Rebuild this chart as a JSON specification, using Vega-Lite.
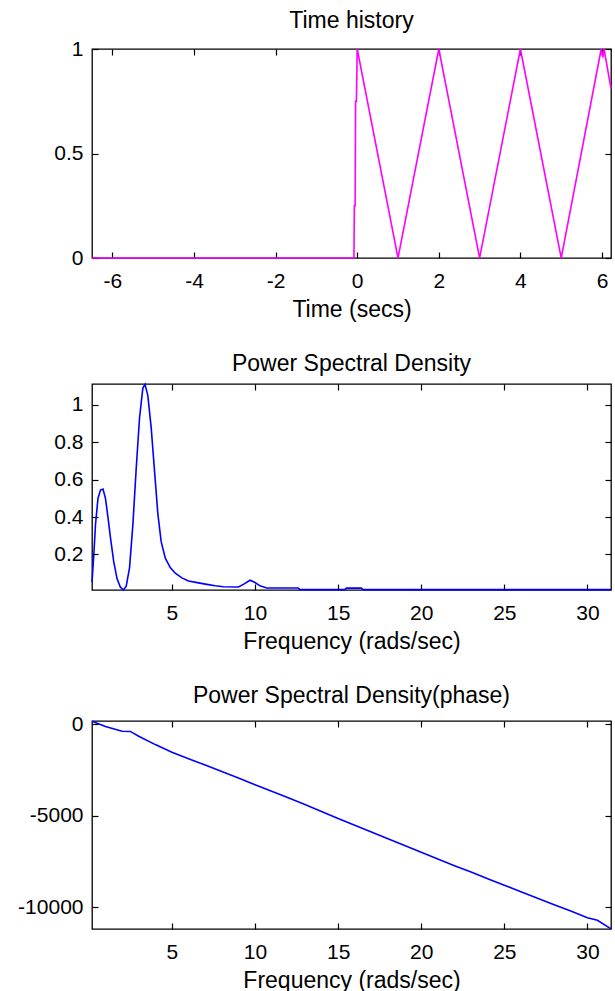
{
  "$schema": "https://vega.github.io/schema/vega-lite/v6.json",
  "padding": {"left": 16, "top": 9, "right": 3, "bottom": 4},
  "spacing": 30,
  "config": {
    "font": "Liberation Sans",
    "view": {"stroke": "black", "strokeWidth": 1.3},
    "locale": {"number": {"decimal": ".", "thousands": ",", "grouping": [3], "currency": ["$", ""], "minus": "-"}},
    "axis": {
      "grid": false, "domain": false, "tickSize": -6, "tickColor": "black", "tickWidth": 1.2,
      "labelFont": "Liberation Sans", "labelFontSize": 21, "labelColor": "black", "labelFlush": false, "labelOverlap": false,
      "titleFont": "Liberation Sans", "titleFontSize": 23, "titleFontWeight": "normal", "titleColor": "black"
    },
    "axisX": {"labelPadding": 18, "titlePadding": 7},
    "axisY": {"labelPadding": 15},
    "title": {"font": "Liberation Sans", "fontSize": 23, "fontWeight": "normal", "color": "black", "offset": 5}
  },
  "vconcat": [
    {
      "width": 519, "height": 209,
      "title": "Time history",
      "data": {"values": [
        {"t": -6.5, "v": 0}, {"t": -0.08, "v": 0}, {"t": -0.07, "v": 0.25}, {"t": -0.05, "v": 0.25},
        {"t": -0.04, "v": 0.75}, {"t": -0.02, "v": 0.75}, {"t": 0, "v": 1}, {"t": 1, "v": 0},
        {"t": 2, "v": 1}, {"t": 3, "v": 0}, {"t": 4, "v": 1}, {"t": 5, "v": 0},
        {"t": 5.98, "v": 1}, {"t": 6.02, "v": 0.96}, {"t": 6.05, "v": 1}, {"t": 6.22, "v": 0.81}
      ]},
      "layer": [
        {
          "mark": {"type": "line", "color": "#ff00ff", "strokeWidth": 1.6},
          "encoding": {
            "x": {"field": "t", "type": "quantitative", "scale": {"domain": [-6.5, 6.22], "nice": false, "zero": false},
                  "axis": {"orient": "bottom", "values": [-6, -4, -2, 0, 2, 4, 6], "title": "Time (secs)"}},
            "y": {"field": "v", "type": "quantitative", "scale": {"domain": [0, 1], "nice": false, "zero": false},
                  "axis": {"orient": "left", "values": [0, 0.5, 1], "format": "~g", "title": null}}
          }
        },
        {
          "mark": {"type": "line", "opacity": 0},
          "encoding": {
            "x": {"field": "t", "type": "quantitative", "axis": {"orient": "top", "labels": false, "title": null, "values": [-6, -4, -2, 0, 2, 4, 6]}},
            "y": {"field": "v", "type": "quantitative", "axis": {"orient": "right", "labels": false, "title": null, "values": [0, 0.5, 1]}}
          }
        }
      ]
    },
    {
      "width": 519, "height": 206,
      "title": "Power Spectral Density",
      "data": {"values": [
        {"f": 0.19, "p": 0.053}, {"f": 0.3, "p": 0.2}, {"f": 0.4, "p": 0.36}, {"f": 0.55, "p": 0.5},
        {"f": 0.7, "p": 0.545}, {"f": 0.85, "p": 0.55}, {"f": 1.0, "p": 0.5}, {"f": 1.15, "p": 0.4},
        {"f": 1.3, "p": 0.29}, {"f": 1.5, "p": 0.16}, {"f": 1.7, "p": 0.07}, {"f": 1.9, "p": 0.025},
        {"f": 2.08, "p": 0.01}, {"f": 2.25, "p": 0.03}, {"f": 2.45, "p": 0.13}, {"f": 2.65, "p": 0.36},
        {"f": 2.85, "p": 0.66}, {"f": 3.05, "p": 0.93}, {"f": 3.25, "p": 1.09}, {"f": 3.38, "p": 1.11},
        {"f": 3.55, "p": 1.05}, {"f": 3.75, "p": 0.88}, {"f": 3.95, "p": 0.65}, {"f": 4.15, "p": 0.42},
        {"f": 4.35, "p": 0.27}, {"f": 4.6, "p": 0.18}, {"f": 4.9, "p": 0.13}, {"f": 5.2, "p": 0.1},
        {"f": 5.6, "p": 0.075}, {"f": 6.0, "p": 0.058}, {"f": 6.6, "p": 0.048}, {"f": 7.1, "p": 0.04},
        {"f": 7.6, "p": 0.033}, {"f": 8.1, "p": 0.027}, {"f": 9.0, "p": 0.026}, {"f": 9.3, "p": 0.04},
        {"f": 9.7, "p": 0.062}, {"f": 10.0, "p": 0.05}, {"f": 10.3, "p": 0.032}, {"f": 10.7, "p": 0.021},
        {"f": 12.6, "p": 0.021}, {"f": 12.7, "p": 0.012}, {"f": 15.4, "p": 0.012}, {"f": 15.5, "p": 0.02},
        {"f": 16.4, "p": 0.02}, {"f": 16.5, "p": 0.012}, {"f": 31.42, "p": 0.012}
      ]},
      "layer": [
        {
          "mark": {"type": "line", "color": "#0000ff", "strokeWidth": 1.6},
          "encoding": {
            "x": {"field": "f", "type": "quantitative", "scale": {"domain": [0.19, 31.42], "nice": false, "zero": false},
                  "axis": {"orient": "bottom", "values": [5, 10, 15, 20, 25, 30], "title": "Frequency (rads/sec)"}},
            "y": {"field": "p", "type": "quantitative", "scale": {"domain": [0.01, 1.112], "nice": false, "zero": false},
                  "axis": {"orient": "left", "values": [0.2, 0.4, 0.6, 0.8, 1], "format": "~g", "title": null}}
          }
        },
        {
          "mark": {"type": "line", "opacity": 0},
          "encoding": {
            "x": {"field": "f", "type": "quantitative", "axis": {"orient": "top", "labels": false, "title": null, "values": [5, 10, 15, 20, 25, 30]}},
            "y": {"field": "p", "type": "quantitative", "axis": {"orient": "right", "labels": false, "title": null, "values": [0.2, 0.4, 0.6, 0.8, 1]}}
          }
        }
      ]
    },
    {
      "width": 519, "height": 208,
      "title": "Power Spectral Density(phase)",
      "data": {"values": [
        {"f": 0.19, "ph": 180}, {"f": 1, "ph": -110}, {"f": 2, "ph": -370}, {"f": 2.5, "ph": -380},
        {"f": 3, "ph": -640}, {"f": 4, "ph": -1100}, {"f": 5, "ph": -1520}, {"f": 6, "ph": -1870},
        {"f": 7, "ph": -2220}, {"f": 8, "ph": -2570}, {"f": 9, "ph": -2920}, {"f": 10, "ph": -3290},
        {"f": 11, "ph": -3650}, {"f": 12, "ph": -4010}, {"f": 13, "ph": -4380}, {"f": 14, "ph": -4760},
        {"f": 15, "ph": -5140}, {"f": 16, "ph": -5510}, {"f": 17, "ph": -5880}, {"f": 18, "ph": -6250},
        {"f": 19, "ph": -6620}, {"f": 20, "ph": -6990}, {"f": 21, "ph": -7350}, {"f": 22, "ph": -7720},
        {"f": 23, "ph": -8070}, {"f": 24, "ph": -8430}, {"f": 25, "ph": -8790}, {"f": 26, "ph": -9140},
        {"f": 27, "ph": -9500}, {"f": 28, "ph": -9850}, {"f": 29, "ph": -10200}, {"f": 30, "ph": -10560},
        {"f": 30.6, "ph": -10700}, {"f": 31.42, "ph": -11170}
      ]},
      "layer": [
        {
          "mark": {"type": "line", "color": "#0000ff", "strokeWidth": 1.6},
          "encoding": {
            "x": {"field": "f", "type": "quantitative", "scale": {"domain": [0.19, 31.42], "nice": false, "zero": false},
                  "axis": {"orient": "bottom", "values": [5, 10, 15, 20, 25, 30], "title": "Frequency (rads/sec)"}},
            "y": {"field": "ph", "type": "quantitative", "scale": {"domain": [-11180, 190], "nice": false, "zero": false},
                  "axis": {"orient": "left", "values": [-10000, -5000, 0], "format": "d", "title": null}}
          }
        },
        {
          "mark": {"type": "line", "opacity": 0},
          "encoding": {
            "x": {"field": "f", "type": "quantitative", "axis": {"orient": "top", "labels": false, "title": null, "values": [5, 10, 15, 20, 25, 30]}},
            "y": {"field": "ph", "type": "quantitative", "axis": {"orient": "right", "labels": false, "title": null, "values": [-10000, -5000, 0]}}
          }
        }
      ]
    }
  ]
}
